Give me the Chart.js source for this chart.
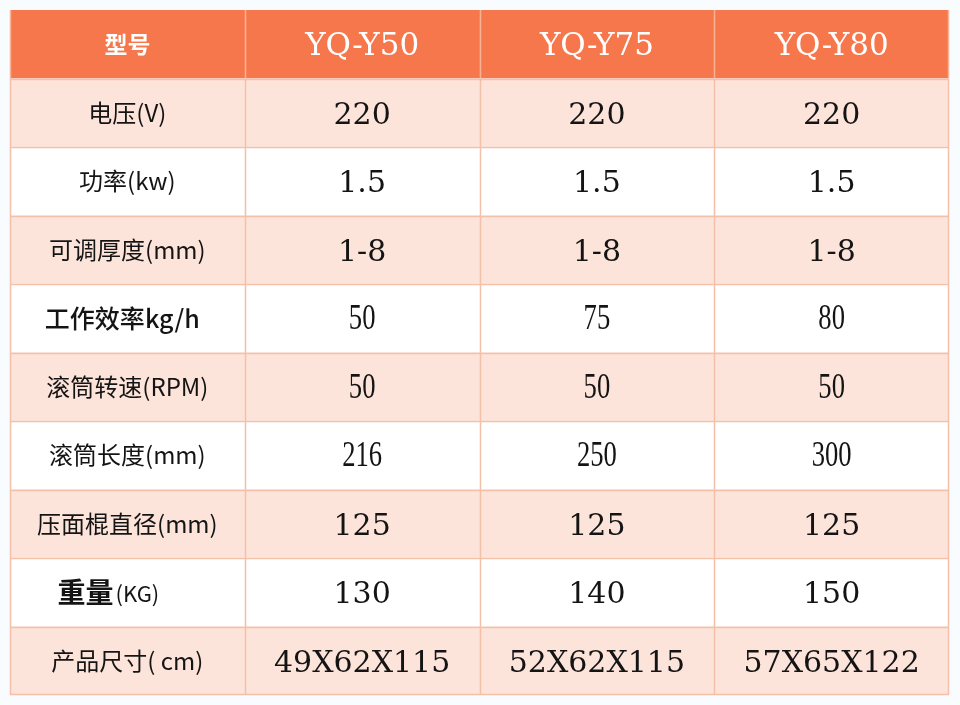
<!DOCTYPE html>
<html lang="zh">
<head>
  <meta charset="UTF-8"/>
  <title>YQ 压面机参数</title>
  <script src="https://cdn.jsdelivr.net/npm/chart.js"></script>
  <style>
    html, body { margin: 0; padding: 0; background: #f9fcfe; }
    .wrap { width: 960px; height: 705px; position: relative; }
  </style>
</head>
<body>
  <div class="wrap"><canvas id="chart"></canvas></div>

  <script>
    // table data
    const headerLabel = '型号';
    const models = ['YQ-Y50', 'YQ-Y75', 'YQ-Y80'];
    const params = ['电压(V)', '功率(kw)', '可调厚度(mm)', '工作效率kg/h', '滚筒转速(RPM)',
                    '滚筒长度(mm)', '压面棍直径(mm)', '重量(KG)', '产品尺寸( cm)'];
    const y50 = ['220', '1.5', '1-8', '50', '50', '216', '125', '130', '49X62X115'];
    const y75 = ['220', '1.5', '1-8', '75', '50', '250', '125', '140', '52X62X115'];
    const y80 = ['220', '1.5', '1-8', '80', '50', '300', '125', '150', '57X65X122'];

    const rows = [headerLabel, ...params];
    const columns = [rows, [models[0], ...y50], [models[1], ...y75], [models[2], ...y80]];

    const ORANGE = '#f6774b';
    const PEACH = '#fde4db';
    const LINE = '#f4c0a9';
    const rowColor = rows.map((r, i) => i === 0 ? ORANGE : (i % 2 ? PEACH : '#ffffff'));

    // rows whose values use the narrow serif face
    const narrowRows = [4, 5, 6];

    function drawNarrow(ctx, text, x, y) {
      ctx.save();
      ctx.translate(x, y);
      ctx.scale(0.76, 1);
      ctx.fillText(text, 0, 0);
      ctx.restore();
    }

    const tablePlugin = {
      id: 'tableText',
      afterDatasetsDraw(chart) {
        const { ctx, scales: { x, y } } = chart;
        const band = (y.bottom - y.top) / rows.length;
        ctx.save();

        // cell borders
        ctx.lineWidth = 1.5;
        for (let c = 0; c <= columns.length; c++) {
          const px = Math.round(x.getPixelForValue(c)) + (c === columns.length ? -0.5 : 0.5);
          ctx.strokeStyle = '#f9b294';
          ctx.beginPath(); ctx.moveTo(px, y.top); ctx.lineTo(px, y.top + band); ctx.stroke();
          ctx.strokeStyle = LINE;
          ctx.beginPath(); ctx.moveTo(px, y.top + band); ctx.lineTo(px, y.bottom); ctx.stroke();
        }
        ctx.strokeStyle = LINE;
        for (let r = 1; r <= rows.length; r++) {
          const py = Math.round(y.getPixelForValue(r - 1) + band / 2) + (r === rows.length ? -0.5 : 0.5);
          ctx.beginPath(); ctx.moveTo(x.left, py); ctx.lineTo(x.right, py); ctx.stroke();
        }

        // texts
        ctx.textAlign = 'center';
        ctx.textBaseline = 'middle';
        columns.forEach((col, c) => {
          const cx = x.getPixelForValue(c + 0.5);
          col.forEach((text, r) => {
            const cy = y.getPixelForValue(r);
            if (r === 0) {
              ctx.fillStyle = '#ffffff';
              if (c === 0) {
                ctx.font = 'bold 23px "Noto Sans CJK SC"';
                ctx.fillText(text, cx, cy);
              } else {
                ctx.font = '31px "DejaVu Serif"';
                ctx.fillText(text, cx, cy + 3);
              }
              return;
            }
            ctx.fillStyle = '#141414';
            if (c === 0) {
              if (r === 4) {
                ctx.font = '500 25px "Noto Sans CJK SC"';
                ctx.fillText(text, cx - 5, cy);
              } else if (r === 8) {
                const m = text.match(/^(.*?)(\(.*\))$/);
                ctx.font = 'bold 28px "Noto Sans CJK SC"';
                const w1 = ctx.measureText(m[1]).width;
                ctx.font = '22px "Noto Sans CJK SC"';
                const w2 = ctx.measureText(m[2]).width;
                const left = cx - 20 - (w1 + w2) / 2;
                ctx.textAlign = 'left';
                ctx.font = 'bold 28px "Noto Sans CJK SC"';
                ctx.fillText(m[1], left, cy);
                ctx.font = '22px "Noto Sans CJK SC"';
                ctx.fillText(m[2], left + w1 + 2, cy + 1);
                ctx.textAlign = 'center';
              } else {
                ctx.font = '24px "Noto Sans CJK SC"';
                ctx.fillText(text, cx, cy);
              }
            } else if (narrowRows.includes(r)) {
              ctx.font = '35px "Liberation Serif"';
              drawNarrow(ctx, text, cx, cy + 2);
            } else {
              ctx.font = '30px "DejaVu Serif"';
              ctx.fillText(text, cx, cy + 3);
            }
          });
        });
        ctx.restore();
      }
    };

    new Chart(document.getElementById('chart'), {
      type: 'bar',
      data: {
        labels: rows,
        datasets: columns.map((col, c) => ({
          label: c === 0 ? headerLabel : models[c - 1],
          data: rows.map(() => [c, c + 1]),
          backgroundColor: rowColor,
          borderWidth: 0,
          grouped: false,
          barPercentage: 1,
          categoryPercentage: 1
        }))
      },
      options: {
        indexAxis: 'y',
        responsive: true,
        maintainAspectRatio: false,
        animation: false,
        layout: { padding: { left: 10, top: 10, right: 11, bottom: 10 } },
        plugins: { legend: { display: false }, tooltip: { enabled: false } },
        scales: {
          x: { type: 'linear', min: 0, max: 4, display: false },
          y: { type: 'category', display: false, offset: true }
        }
      },
      plugins: [tablePlugin]
    });
  </script>
</body>
</html>
